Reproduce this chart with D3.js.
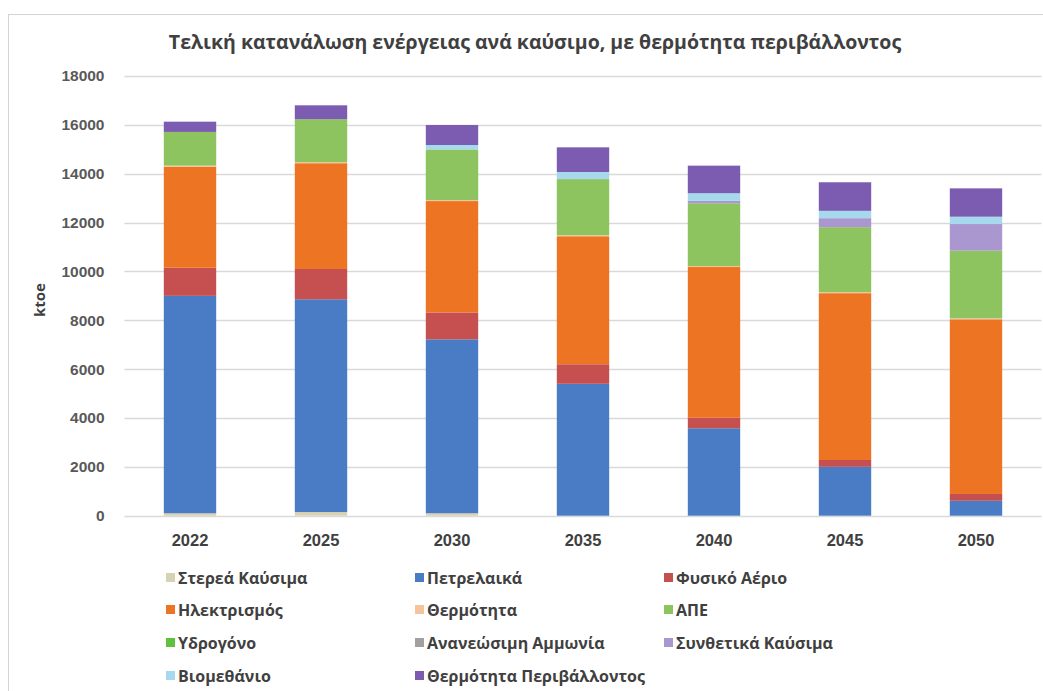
<!DOCTYPE html>
<html>
<head>
<meta charset="utf-8">
<script src="https://cdn.jsdelivr.net/npm/d3@7/dist/d3.min.js"></script>
<style>
  html, body { margin: 0; padding: 0; background: #ffffff; }
  svg { display: block; font-family: "Open Sans", "Noto Sans", sans-serif; }
</style>
</head>
<body>
<svg id="chart" width="1043" height="691"></svg>
<script>
// Years on the category axis
const years = ["2022", "2025", "2030", "2035", "2040", "2045", "2050"];

// Final energy consumption per fuel (ktoe), one array per fuel
const stereaKafsima      = [100, 150, 100, 0, 0, 0, 0];
const petrelaika         = [8900, 8710, 7120, 5400, 3580, 2000, 610];
const fysikoAerio        = [1150, 1240, 1100, 800, 430, 280, 280];
const ilektrismos        = [4140, 4330, 4560, 5240, 6170, 6830, 7150];
const thermotita         = [40, 40, 40, 40, 40, 40, 40];
const ape                = [1380, 1760, 2075, 2300, 2570, 2660, 2770];
const ydrogono           = [0, 0, 0, 0, 0, 0, 0];
const ananeosimiAmmonia  = [0, 0, 0, 0, 0, 0, 0];
const synthetikaKafsima  = [0, 0, 0, 0, 100, 370, 1090];
const viomethanio        = [0, 0, 180, 290, 310, 300, 300];
const thermotitaPerivall = [420, 570, 820, 1010, 1130, 1170, 1160];

// Series names, in stacking order (bottom to top)
const seriesNames = [
  "Στερεά Καύσιμα", "Πετρελαικά", "Φυσικό Αέριο",
  "Ηλεκτρισμός", "Θερμότητα", "ΑΠΕ",
  "Υδρογόνο", "Ανανεώσιμη Αμμωνία", "Συνθετικά Καύσιμα",
  "Βιομεθάνιο", "Θερμότητα Περιβάλλοντος"
];
const seriesValues = [
  stereaKafsima, petrelaika, fysikoAerio,
  ilektrismos, thermotita, ape,
  ydrogono, ananeosimiAmmonia, synthetikaKafsima,
  viomethanio, thermotitaPerivall
];
const seriesColors = [
  "#d8d2b4", "#4a7cc5", "#c5504f",
  "#ed7423", "#f5c49a", "#8dc45f",
  "#5fc13c", "#a0a0a0", "#ab97cf",
  "#a6d8ee", "#7b5cb0"
];

// Y axis ticks
const yTicks = [0, 2000, 4000, 6000, 8000, 10000, 12000, 14000, 16000, 18000];

const chartTitle = "Τελική κατανάλωση ενέργειας ανά καύσιμο, με θερμότητα περιβάλλοντος";
const yTitle = "ktoe";

// Build row records for the stack layout
const rows = years.map((yr, i) => {
  const r = { year: yr };
  seriesNames.forEach((n, k) => { r[n] = seriesValues[k][i]; });
  return r;
});

const svg = d3.select("#chart");

// Chart frame
svg.append("rect")
  .attr("x", 8.5).attr("y", 14.5)
  .attr("width", 1060).attr("height", 700)
  .attr("fill", "#ffffff")
  .attr("stroke", "#d4d4d4").attr("stroke-width", 1);

const plot = { left: 124.5, right: 1041.5, top: 76, bottom: 515.7 };

const x = d3.scaleBand()
  .domain(years)
  .range([plot.left, plot.right])
  .paddingInner(0.6)
  .paddingOuter(0.3);

const y = d3.scaleLinear()
  .domain([0, 18000])
  .range([plot.bottom, plot.top]);

// Gridlines
svg.append("g")
  .selectAll("line")
  .data(yTicks)
  .join("line")
  .attr("x1", plot.left).attr("x2", plot.right)
  .attr("y1", d => Math.round(y(d)) + 0.5)
  .attr("y2", d => Math.round(y(d)) + 0.5)
  .attr("stroke", "#d9d9d9").attr("stroke-width", 1.3);

// Y axis labels
const yAxis = d3.axisLeft(y).tickValues(yTicks).tickFormat(d3.format("d"))
  .tickSize(0).tickPadding(20);
const gy = svg.append("g")
  .attr("transform", `translate(${plot.left},0)`)
  .call(yAxis);
gy.select(".domain").remove();
gy.selectAll("text")
  .attr("fill", "#595959")
  .style("font-size", "15.5px")
  .style("font-weight", "bold");

// X axis labels
const xAxis = d3.axisBottom(x).tickSize(0).tickPadding(19);
const gx = svg.append("g")
  .attr("transform", `translate(0,${plot.bottom})`)
  .call(xAxis);
gx.select(".domain").remove();
gx.selectAll("text")
  .attr("fill", "#404040")
  .style("font-size", "16.5px")
  .style("font-weight", "bold");

// Stacked bars
const stack = d3.stack().keys(seriesNames);
const layers = stack(rows);

svg.append("g")
  .selectAll("g")
  .data(layers)
  .join("g")
  .attr("fill", (d, i) => seriesColors[i])
  .selectAll("rect")
  .data(d => d)
  .join("rect")
  .attr("x", d => x(d.data.year))
  .attr("width", x.bandwidth())
  .attr("y", d => y(d[1]))
  .attr("height", d => Math.max(0, y(d[0]) - y(d[1])));

// Title
svg.append("text")
  .attr("x", 535).attr("y", 49)
  .attr("text-anchor", "middle")
  .attr("fill", "#404040")
  .style("font-size", "19.5px")
  .style("font-weight", "bold")
  .text(chartTitle);

// Y axis title
svg.append("text")
  .attr("transform", "translate(45,300) rotate(-90)")
  .attr("text-anchor", "middle")
  .attr("fill", "#404040")
  .style("font-size", "15px")
  .style("font-weight", "bold")
  .text(yTitle);

// Legend: three columns, four rows
const legendCols = [166, 415, 664];
const legendRows = [578, 610, 643, 676];
const legend = svg.append("g")
  .selectAll("g")
  .data(seriesNames)
  .join("g")
  .attr("transform", (d, i) => `translate(${legendCols[i % 3]},${legendRows[Math.floor(i / 3)]})`);

legend.append("rect")
  .attr("x", 0).attr("y", -5)
  .attr("width", 9).attr("height", 9)
  .attr("fill", (d, i) => seriesColors[i]);

legend.append("text")
  .attr("x", 12).attr("y", 0)
  .attr("dy", "0.35em")
  .attr("fill", "#404040")
  .style("font-size", "16px")
  .style("font-weight", "bold")
  .text(d => d);
</script>
</body>
</html>
